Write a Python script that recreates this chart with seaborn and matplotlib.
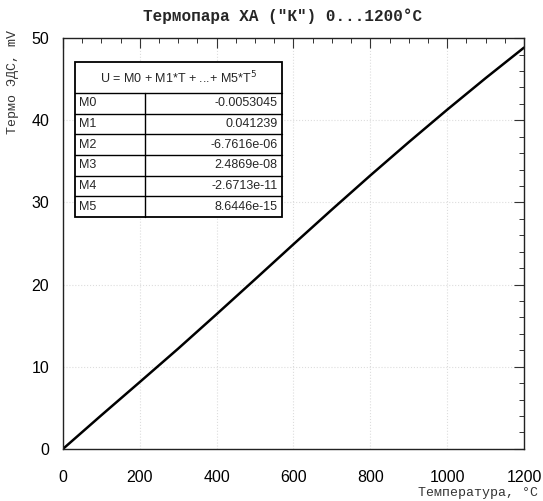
import numpy as np
import pandas as pd
import matplotlib
matplotlib.use("Agg")
import matplotlib.pyplot as plt
import seaborn as sns
from matplotlib.ticker import MultipleLocator

# temperature, deg C and thermo-EMF, mV (type K)
temperature = [0, 100, 200, 300, 400, 500, 600, 700, 800, 900, 1000, 1100, 1200]
emf = [0.0, 4.10, 8.14, 12.21, 16.40, 20.64, 24.91, 29.13, 33.28, 37.33, 41.28, 45.12, 48.84]

coef_names = ["M0", "M1", "M2", "M3", "M4", "M5"]
coef_values = ["-0.0053045", "0.041239", "-6.7616e-06", "2.4869e-08", "-2.6713e-11", "8.6446e-15"]

df = pd.DataFrame({"T": temperature, "U": emf})

sns.set_style("white")
plt.rcParams["font.family"] = ["Liberation Sans", "DejaVu Sans"]
mono = ["Liberation Mono", "DejaVu Sans Mono"]

fig = plt.figure(figsize=(5.43, 5.01), dpi=100)
ax = fig.add_axes([0.116, 0.104, 0.849, 0.820])

sns.lineplot(data=df, x="T", y="U", color="black", linewidth=1.8, ax=ax)

ax.set_xlim(0, 1200)
ax.set_ylim(0, 50)
ax.xaxis.set_major_locator(MultipleLocator(200))
ax.xaxis.set_minor_locator(MultipleLocator(50))
ax.yaxis.set_major_locator(MultipleLocator(10))
ax.yaxis.set_minor_locator(MultipleLocator(2))
ax.tick_params(which="both", direction="in", top=True, right=True,
               color="#333333", labelsize=11.5, labelcolor="black")
ax.tick_params(which="major", length=7, width=0.8, pad=10)
ax.tick_params(axis="x", which="major", pad=15)
ax.tick_params(which="minor", length=3.5, width=0.7)
ax.grid(True, which="major", linestyle=":", color="#dddddd", linewidth=0.8)
for sp in ax.spines.values():
    sp.set_color("#222222")
    sp.set_linewidth(1.0)
ax.set_xlabel("")
ax.set_ylabel("")

fig.text(0.52, 0.968, 'Термопара ХА ("К") 0...1200°C', ha="center", va="center",
         family=mono, fontweight="bold", fontsize=11.5)
fig.text(0.024, 0.94, "Термо ЭДС, mV", rotation=90, ha="center", va="top",
         family=mono, fontsize=9.5, color="#333333")
fig.text(0.99, 0.016, "Температура, °C", ha="right", va="center",
         family=mono, fontsize=9.5, color="#333333")

# coefficient table drawn in axes fraction
x0, x1, xs = 0.026, 0.475, 0.178
y_top, y_head, y_bot = 0.942, 0.866, 0.5645
tr = ax.transAxes
lw = 1.0
ax.add_patch(plt.Rectangle((x0, y_bot), x1 - x0, y_top - y_bot, transform=tr,
                           facecolor="white", edgecolor="black", linewidth=1.3, zorder=5))
ax.plot([x0, x1], [y_head, y_head], color="black", lw=lw, transform=tr, zorder=6)
ax.plot([xs, xs], [y_bot, y_head], color="black", lw=lw, transform=tr, zorder=6)
row_h = (y_head - y_bot) / len(coef_names)
ax.text((x0 + x1) / 2, (y_top + y_head) / 2, r"U = M0 + M1*T + ...+ M5*T$^5$",
        ha="center", va="center", fontsize=9, transform=tr, zorder=7)
for i, (name, val) in enumerate(zip(coef_names, coef_values)):
    yc = y_head - (i + 0.5) * row_h
    if i > 0:
        yl = y_head - i * row_h
        ax.plot([x0, x1], [yl, yl], color="black", lw=lw, transform=tr, zorder=6)
    ax.text(x0 + 0.008, yc, name, ha="left", va="center", fontsize=9,
            transform=tr, zorder=7)
    ax.text(x1 - 0.01, yc, val, ha="right", va="center", fontsize=9,
            transform=tr, zorder=7)

fig.savefig("out.png", dpi=100)
